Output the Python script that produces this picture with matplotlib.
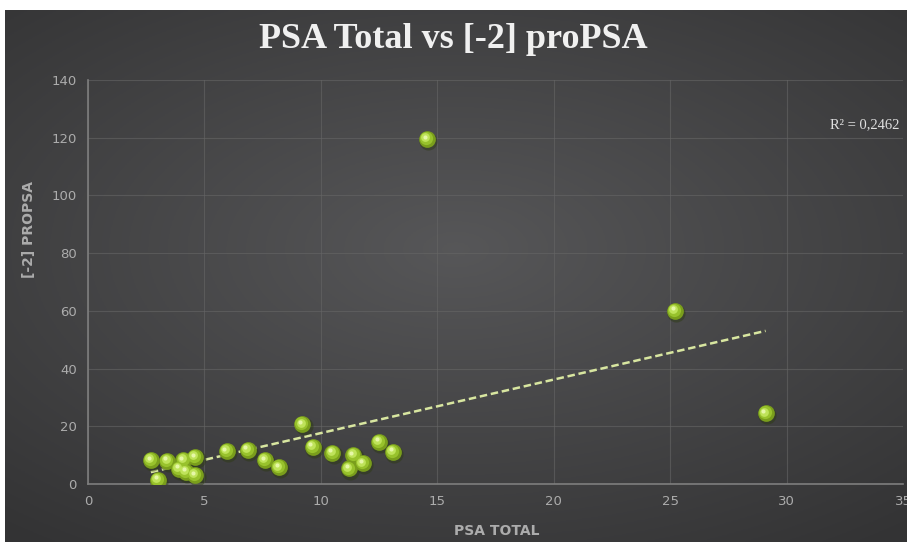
import numpy as np
import matplotlib.pyplot as plt
from matplotlib.transforms import offset_copy

# data
psa_total = [2.7, 3.4, 3.0, 4.1, 4.6, 3.9, 4.2, 4.6, 5.95, 6.85, 7.6, 8.2,
             9.2, 9.65, 10.5, 11.4, 11.8, 11.2, 12.5, 13.1, 14.55, 25.2, 29.1]
propsa = [8.3, 8.1, 1.4, 8.3, 9.3, 5.2, 4.3, 3.1, 11.4, 11.8, 8.3, 5.8,
          20.7, 12.9, 10.9, 10.0, 7.2, 5.4, 14.7, 11.2, 119.5, 60.0, 24.5]
x_ticks = [0, 5, 10, 15, 20, 25, 30, 35]
y_ticks = [0, 20, 40, 60, 80, 100, 120, 140]
r2_text = "R² = 0,2462"

fig = plt.figure(figsize=(9.07, 5.42), dpi=100)
fig.patch.set_facecolor('white')

# dark gradient background
bg = fig.add_axes([5 / 907, 0, 1 - 5 / 907, 1 - 10 / 542])
gx, gy = np.meshgrid(np.linspace(-1, 1, 400), np.linspace(-1, 1, 240))
r = np.sqrt((gx * 0.9) ** 2 + ((gy + 0.1) * 1.0) ** 2)
shade = 0.34 - 0.14 * np.clip(r, 0, 1.4) / 1.4
bg.imshow(np.dstack([shade, shade, shade * 1.02]).clip(0, 1), aspect='auto',
          extent=[0, 1, 0, 1])
bg.axis('off')

ax = fig.add_axes([88 / 907, 1 - 484 / 542, 815 / 907, 404 / 542])
ax.set_facecolor('none')
ax.set_xlim(0, 35)
ax.set_ylim(0, 140)
ax.set_xticks(x_ticks)
ax.set_yticks(y_ticks)
ax.grid(True, color='#666666', linewidth=0.8, alpha=0.6)
ax.set_axisbelow(True)
for s in ['top', 'right']:
    ax.spines[s].set_visible(False)
for s in ['left', 'bottom']:
    ax.spines[s].set_color('#7e7e7e')
    ax.spines[s].set_linewidth(1.2)
ax.tick_params(colors='#acacac', length=0, labelsize=9.5, pad=8)

# trend line (least squares)
slope, icpt = np.polyfit(psa_total, propsa, 1)
tx = np.array([min(psa_total), max(psa_total)])
ax.plot(tx, slope * tx + icpt, linestyle=(0, (3, 1.5)), color='#d8e6a0',
        linewidth=1.8, zorder=3)

# glossy green balls
ax.scatter(psa_total, propsa, s=170, color='#2c3a10', alpha=0.45, zorder=4,
           linewidths=0,
           transform=offset_copy(ax.transData, fig, x=1, y=-1.5, units='points'))
ax.scatter(psa_total, propsa, s=145, color='#7a9e1c', zorder=5, linewidths=0)
ax.scatter(psa_total, propsa, s=90, color='#98c22c', zorder=6, linewidths=0,
           transform=offset_copy(ax.transData, fig, x=-0.6, y=0.6, units='points'))
ax.scatter(psa_total, propsa, s=40, color='#bfe35a', zorder=7, linewidths=0,
           transform=offset_copy(ax.transData, fig, x=-1.2, y=1.2, units='points'))
ax.scatter(psa_total, propsa, s=9, color='#e6f7a8', zorder=8, linewidths=0,
           transform=offset_copy(ax.transData, fig, x=-1.6, y=1.8, units='points'))

ax.text(0.996, 0.889, r2_text, transform=ax.transAxes, ha='right', va='center',
        color='#e0e0e0', fontsize=10.5, family='Liberation Serif')

fig.text(0.5, 1 - 40 / 542, 'PSA Total vs [-2] proPSA', ha='center', va='center',
         color='#f0f0f0', fontsize=26, fontweight='bold', family='Liberation Serif')
ax.set_xlabel('PSA TOTAL', color='#acacac', fontsize=10, fontweight='bold')
ax.xaxis.set_label_coords((497 - 88) / 815, -(524 - 484) / 404)
ax.set_ylabel('[-2] PROPSA', color='#acacac', fontsize=10, fontweight='bold')
ax.yaxis.set_label_coords(-(88 - 36) / 815, (484 - 230) / 404)

fig.savefig('out.png', dpi=100)
